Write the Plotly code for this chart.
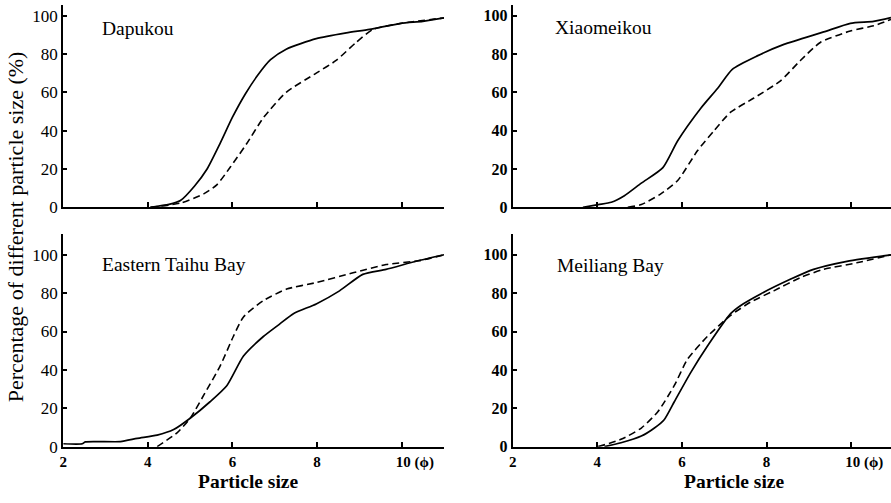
import plotly.graph_objects as go

# ---- data ----
panel_names = ["Dapukou", "Xiaomeikou", "Eastern Taihu Bay", "Meiliang Bay"]

dapukou_solid_x = [4.06, 4.5, 4.77, 5.1, 5.4, 5.7, 6.0, 6.3, 6.6, 6.9, 7.27, 7.98, 8.69, 9.24, 9.98, 10.5, 11.0]
dapukou_solid_y = [0, 1.5, 3.5, 11, 20, 33, 47, 59, 69, 77, 82.5, 88, 91, 92.8, 96, 97, 98.8]
dapukou_dash_x = [4.06, 4.77, 5.32, 5.63, 5.95, 6.33, 6.73, 7.27, 7.98, 8.45, 8.92, 9.32, 10.0, 11.0]
dapukou_dash_y = [0, 2.2, 7, 11.7, 21, 33, 46.7, 60, 70, 76.6, 86, 92.8, 96, 98.8]

xiao_solid_x = [3.66, 4.02, 4.33, 4.64, 5.04, 5.55, 5.9, 6.45, 6.84, 7.19, 7.78, 8.41, 9.35, 9.98, 10.53, 10.94]
xiao_solid_y = [0, 1.4, 2.6, 6, 12.6, 20.7, 34.7, 51.8, 62, 72, 79, 85, 91.5, 96, 97, 99]
xiao_dash_x = [4.72, 5.04, 5.5, 5.9, 6.37, 6.76, 7.15, 7.7, 8.33, 8.8, 9.27, 9.98, 10.53, 10.94]
xiao_dash_y = [0, 1.4, 7, 14, 29.6, 40, 49.6, 57, 66, 76.6, 86, 92, 94.7, 98]

east_solid_x = [2.0, 2.45, 2.52, 3.35, 3.75, 4.22, 4.61, 5.0, 5.47, 5.87, 6.26, 6.73, 7.12, 7.44, 7.98, 8.53, 9.08, 9.63, 10.34, 11.0]
east_solid_y = [1.5, 1.5, 2.5, 2.6, 4.3, 6, 8.9, 14.8, 23.4, 31.9, 47.2, 57.4, 64, 69.3, 74.4, 81.2, 89.8, 92.4, 96.6, 100]
east_dash_x = [4.22, 4.69, 5.0, 5.32, 5.71, 6.02, 6.26, 6.73, 7.28, 7.98, 8.85, 9.63, 10.41, 11.0]
east_dash_y = [0, 7.2, 14.8, 26.8, 42.1, 57.4, 67.6, 76.1, 82.1, 85.5, 90.6, 94.9, 96.9, 100]

mei_solid_x = [4.17, 4.56, 5.04, 5.35, 5.58, 5.82, 6.21, 6.6, 7.15, 7.39, 7.86, 8.56, 9.11, 9.9, 10.94]
mei_solid_y = [0, 2, 5.5, 9.7, 14, 23.4, 38.7, 52.3, 69.3, 73.6, 79.6, 87.2, 92.4, 96.6, 100]
mei_dash_x = [4.02, 4.56, 5.04, 5.43, 5.82, 6.13, 6.6, 7.15, 7.62, 8.17, 8.8, 9.35, 10.13, 10.94]
mei_dash_y = [0, 3.8, 9.7, 18.2, 31.9, 45.5, 57.4, 68.4, 75.3, 81.2, 88.1, 92.4, 95.8, 100]

x_tickvals = [2, 4, 6, 8, 10]
x_ticktext = ["2", "4", "6", "8", "\u00a0" * 7 + "10 (\u03d5)"]
y_tickvals = [0, 20, 40, 60, 80, 100]
y_ticktext = ["0", "20", "40", "60", "80", "100"]

x_title = "Particle size"
y_title = "Percentage of different particle size (%)"

series = [
    (dapukou_solid_x, dapukou_solid_y, dapukou_dash_x, dapukou_dash_y),
    (xiao_solid_x, xiao_solid_y, xiao_dash_x, xiao_dash_y),
    (east_solid_x, east_solid_y, east_dash_x, east_dash_y),
    (mei_solid_x, mei_solid_y, mei_dash_x, mei_dash_y),
]

# ---- layout ----
W, H = 891, 503
FONT = "Liberation Serif"
xdom = [[59.5 / W, 442 / W], [511 / W, 1.0]]
xrng = [[2, 11], [2, 2 + 380 / 42.5]]
ydom = [[(H - 211.5) / H, (H - 5) / H], [(H - 455.7) / H, (H - 239) / H]]
yrng = [[0, 105.6], [0, 110.7]]
title_pos = [(96, 29), (551.5, 28), (96, 270), (553, 271)]

fig = go.Figure()
layout = dict(
    width=W, height=H,
    margin=dict(l=0, r=0, t=0, b=0),
    paper_bgcolor="white", plot_bgcolor="white",
    showlegend=False,
    font=dict(family=FONT, color="black"),
)

annotations = []
for i in range(4):
    row, col = i // 2, i % 2
    k = i + 1
    xa = "xaxis" if k == 1 else f"xaxis{k}"
    ya = "yaxis" if k == 1 else f"yaxis{k}"
    xref = "x" if k == 1 else f"x{k}"
    yref = "y" if k == 1 else f"y{k}"
    sx, sy, dx, dy = series[i]
    fig.add_trace(go.Scatter(x=sx, y=sy, mode="lines", xaxis=xref, yaxis=yref,
                             line=dict(color="black", width=1.7, shape="spline", smoothing=0.6)))
    fig.add_trace(go.Scatter(x=dx, y=dy, mode="lines", xaxis=xref, yaxis=yref,
                             line=dict(color="black", width=1.6, dash="7px,4px", shape="spline", smoothing=0.6)))
    right = col == 1
    layout[xa] = dict(
        domain=xdom[col], range=xrng[col], anchor=yref,
        showgrid=False, zeroline=False, showline=True, linecolor="black", linewidth=2,
        ticks="inside", ticklen=5, tickwidth=1.5, tickcolor="black",
        tickvals=x_tickvals, ticktext=x_ticktext,
        showticklabels=(row == 1),
        tickfont=dict(family=FONT, size=15, color="black", weight="bold"),
    )
    layout[ya] = dict(
        domain=ydom[row], range=yrng[row], anchor=xref,
        showgrid=False, zeroline=False, showline=True, linecolor="black", linewidth=2,
        ticks="inside", ticklen=4, tickwidth=1.5, tickcolor="black",
        tickvals=y_tickvals, ticktext=y_ticktext,
        tickfont=dict(family=FONT, size=16 if right else 17, color="black",
                      weight="bold" if right else "normal"),
    )
    tx, ty = title_pos[i]
    annotations.append(dict(
        text=panel_names[i], xref="paper", yref="paper",
        x=tx / W, y=(H - ty) / H,
        xanchor="left", yanchor="middle", showarrow=False,
        font=dict(family=FONT, size=19.5, color="black"),
    ))

for cx in [245, 733]:
    annotations.append(dict(
        text=x_title, xref="paper", yref="paper", x=cx / W, y=0,
        xanchor="center", yanchor="bottom", showarrow=False, borderpad=0,
        font=dict(family=FONT, size=19.5, color="black", weight="bold"),
    ))
annotations.append(dict(
    text=y_title, xref="paper", yref="paper", x=11 / W, y=(H - 231) / H,
    xanchor="center", yanchor="middle", showarrow=False, textangle=-90,
    font=dict(family=FONT, size=22, color="black"),
))
layout["annotations"] = annotations
fig.update_layout(**layout)
fig.write_html("out.html", config={"displayModeBar": False},
               post_script="document.body.style.margin='0';document.body.style.padding='0';"
                           "document.documentElement.style.overflow='hidden';")
